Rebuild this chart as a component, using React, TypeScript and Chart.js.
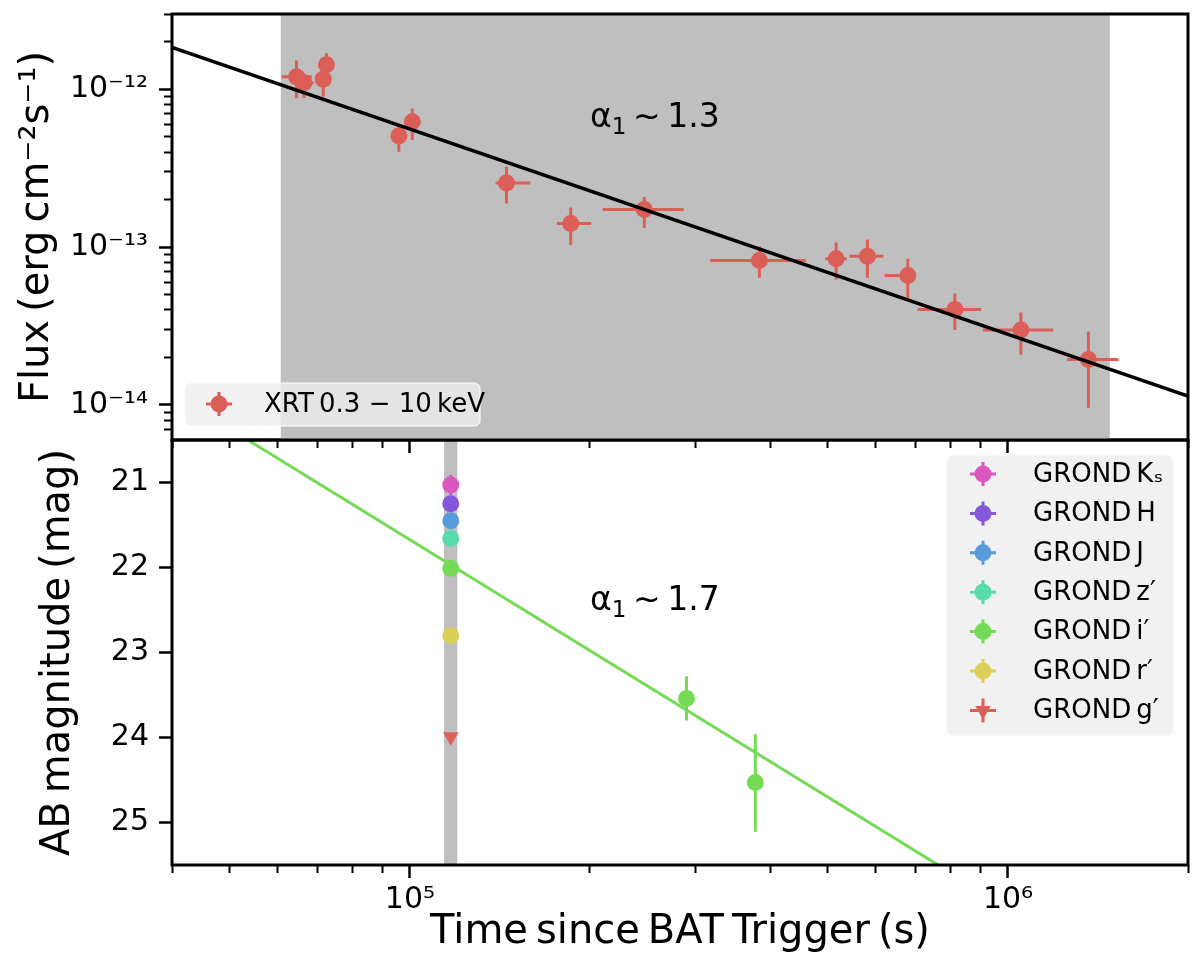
import { useEffect, useRef } from "react";
import { Chart, registerables, type ChartConfiguration, type Plugin, type Scale } from "chart.js";

Chart.register(...registerables);

const FONT = "'DejaVu Sans', 'Noto Sans', sans-serif";
const RED = "#db5f57";
const BAND_GREY = "#bfbfbf";

// time axis (s)
const timeMin = 4e4;
const timeMax = 2e6;
const timeMajor = [1e5, 1e6];
const timeMinor = [4e4, 5e4, 6e4, 7e4, 8e4, 9e4, 2e5, 3e5, 4e5, 5e5, 6e5, 7e5, 8e5, 9e5, 2e6];

// flux axis (erg cm^-2 s^-1)
const fluxMin = 6e-15;
const fluxMax = 3e-12;
const fluxMajor = [1e-14, 1e-13, 1e-12];
const fluxMinor = [
  7e-15, 8e-15, 9e-15, 2e-14, 3e-14, 4e-14, 5e-14, 6e-14, 7e-14, 8e-14, 9e-14,
  2e-13, 3e-13, 4e-13, 5e-13, 6e-13, 7e-13, 8e-13, 9e-13, 2e-12, 3e-12,
];

// magnitude axis
const magMin = 20.5;
const magMax = 25.5;
const magTicks = [21, 22, 23, 24, 25];

// XRT 0.3-10 keV
const xrtTime = [6.46e4, 6.65e4, 7.16e4, 7.25e4, 9.58e4, 1.009e5, 1.45e5, 1.857e5, 2.465e5, 3.84e5, 5.16e5, 5.82e5, 6.8e5, 8.15e5, 1.051e6, 1.363e6];
const xrtTimeLo = [6.1e4, 6.4e4, 7.0e4, 7.1e4, 9.3e4, 9.8e4, 1.39e5, 1.76e5, 2.1e5, 3.18e5, 4.95e5, 5.43e5, 6.22e5, 7.06e5, 9.08e5, 1.255e6];
const xrtTimeHi = [6.85e4, 6.9e4, 7.3e4, 7.4e4, 9.9e4, 1.04e5, 1.59e5, 2.01e5, 2.87e5, 4.59e5, 5.37e5, 6.19e5, 7.0e5, 9.02e5, 1.19e6, 1.53e6];
const xrtFlux = [1.2e-12, 1.1e-12, 1.16e-12, 1.43e-12, 5.07e-13, 6.22e-13, 2.55e-13, 1.41e-13, 1.73e-13, 8.24e-14, 8.45e-14, 8.75e-14, 6.62e-14, 4.03e-14, 2.99e-14, 1.94e-14];
const xrtFluxLo = [8.77e-13, 8.77e-13, 8.98e-13, 1.2e-12, 4.02e-13, 4.77e-13, 1.89e-13, 1.03e-13, 1.32e-13, 6.4e-14, 6.22e-14, 6.4e-14, 4.71e-14, 2.99e-14, 2.08e-14, 9.6e-15];
const xrtFluxHi = [1.52e-12, 1.26e-12, 1.35e-12, 1.69e-12, 5.93e-13, 7.57e-13, 3.23e-13, 1.78e-13, 2.08e-13, 1.01e-13, 1.07e-13, 1.12e-13, 8.45e-14, 5.09e-14, 3.85e-14, 2.92e-14];

// X-ray power-law fit
const xrtFitTime = [4e4, 2e6];
const xrtFitFlux = [1.84e-12, 1.137e-14];
const xrtBand = [6.08e4, 1.48e6];
const xrtIndex = "1.3";

// GROND
const grondLabels = ["GROND\u2009Kₛ", "GROND\u2009H", "GROND\u2009J", "GROND\u2009z′", "GROND\u2009i′", "GROND\u2009r′", "GROND\u2009g′"];
const grondColors = ["#db57c0", "#8557db", "#579bdb", "#57dbaa", "#75db57", "#dbd057", "#db5f57"];
const grondTime = 1.17e5;
const grondMag = [21.03, 21.25, 21.45, 21.66, 22.01, 22.8, 23.99];
const grondMagErr = [0.12, 0.05, 0.05, 0.05, 0.05, 0.05, 0];
const iLateTime = [2.9e5, 3.78e5];
const iLateMag = [23.54, 24.53];
const iLateMagTop = [23.28, 23.96];
const iLateMagBottom = [23.8, 25.11];

// optical power-law fit
const optFitTime = [4e4, 2e6];
const optFitMag = [19.95, 27.31];
const grondBand = [1.14e5, 1.2e5];
const optIndex = "1.7";

const SUP: Record<string, string> = {
  "-": "⁻", "0": "⁰", "1": "¹", "2": "²", "3": "³", "4": "⁴", "5": "⁵", "6": "⁶", "7": "⁷", "8": "⁸", "9": "⁹",
};
const pow10 = (v: number) =>
  "10" + [...String(Math.round(Math.log10(v)))].map((c) => SUP[c]).join("");

const fixBox = (size: number) => (s: Scale) => {
  if (s.isHorizontal()) s.height = size;
  else s.width = size;
  const p = s as any;
  p.paddingLeft = p.paddingRight = p.paddingTop = p.paddingBottom = 0;
};

const tickFont = { family: FONT, size: 30 };
const titleFont = { family: FONT, size: 40 };
const majorGrid = { drawOnChartArea: false, tickLength: 13, tickWidth: 2.5, tickColor: "#000" };
const minorGrid = { drawOnChartArea: false, tickLength: 8, tickWidth: 2, tickColor: "#000" };

function timeScales(showLabels: boolean) {
  return {
    x: {
      type: "logarithmic",
      position: "bottom",
      weight: 1,
      min: timeMin,
      max: timeMax,
      afterBuildTicks: (s: Scale) => {
        s.ticks = timeMajor.map((value) => ({ value, major: true }));
      },
      ticks: {
        display: showLabels,
        callback: (v: number | string) => pow10(Number(v)),
        font: tickFont,
        color: "#000",
        padding: 4,
        maxRotation: 0,
        autoSkip: false,
      },
      grid: majorGrid,
      border: { display: false },
      title: {
        display: showLabels,
        text: "Time\u2009since\u2009BAT\u2009Trigger\u2009(s)",
        font: titleFont,
        color: "#000",
        padding: { top: 0, bottom: 9 },
      },
      afterFit: fixBox(showLabels ? 101 : 20),
    },
    xMinor: {
      type: "logarithmic",
      position: "bottom",
      weight: 0,
      min: timeMin,
      max: timeMax,
      afterBuildTicks: (s: Scale) => {
        s.ticks = timeMinor.map((value) => ({ value }));
      },
      ticks: { display: false, autoSkip: false },
      grid: minorGrid,
      border: { display: false },
      afterFit: fixBox(0),
    },
  };
}

type LegendBox = { x: number; y: number; w: number; h: number; row0: number; step: number; markerX: number; textX: number };
type Note = { x: number; y: number; value: string };

function drawMarker(ctx: CanvasRenderingContext2D, x: number, y: number, color: string, style: string) {
  ctx.strokeStyle = color;
  ctx.lineWidth = 3;
  ctx.beginPath();
  ctx.moveTo(x - 13, y);
  ctx.lineTo(x + 13, y);
  ctx.moveTo(x, y - 12);
  ctx.lineTo(x, y + 12);
  ctx.stroke();
  ctx.fillStyle = color;
  ctx.beginPath();
  if (style === "triangle") {
    ctx.moveTo(x, y + 9);
    ctx.lineTo(x - 7.8, y - 4.5);
    ctx.lineTo(x + 7.8, y - 4.5);
    ctx.closePath();
  } else {
    ctx.arc(x, y, 8.5, 0, Math.PI * 2);
  }
  ctx.fill();
}

function panelPlugin(band: number[], note: Note, legend: LegendBox): Plugin<"scatter"> {
  return {
    id: "panel",
    beforeDatasetsDraw(chart) {
      const { ctx, chartArea: a, scales } = chart;
      const xs = scales.x;
      ctx.save();
      ctx.beginPath();
      ctx.rect(a.left, a.top, a.width, a.height);
      ctx.clip();
      const b0 = xs.getPixelForValue(band[0]);
      const b1 = xs.getPixelForValue(band[1]);
      ctx.fillStyle = BAND_GREY;
      ctx.fillRect(b0, a.top, b1 - b0, a.height);
      ctx.lineWidth = 3;
      chart.data.datasets.forEach((ds: any, i) => {
        if (!ds.errX && !ds.errY) return;
        const ys = scales[chart.getDatasetMeta(i).yAxisID as string];
        ctx.strokeStyle = ds.backgroundColor;
        (ds.data as { x: number; y: number }[]).forEach((p, j) => {
          const px = xs.getPixelForValue(p.x);
          const py = ys.getPixelForValue(p.y);
          const ex = ds.errX?.[j];
          const ey = ds.errY?.[j];
          ctx.beginPath();
          if (ex) {
            ctx.moveTo(xs.getPixelForValue(ex[0]), py);
            ctx.lineTo(xs.getPixelForValue(ex[1]), py);
          }
          if (ey) {
            ctx.moveTo(px, ys.getPixelForValue(ey[0]));
            ctx.lineTo(px, ys.getPixelForValue(ey[1]));
          }
          ctx.stroke();
        });
      });
      ctx.restore();
    },
    afterDatasetsDraw(chart) {
      const { ctx, chartArea: a, scales } = chart;
      ctx.save();
      // annotation  α₁ ∼ n
      let cx = scales.x.getPixelForValue(note.x);
      const cy = scales.y.getPixelForValue(note.y);
      ctx.fillStyle = "#000";
      ctx.textBaseline = "alphabetic";
      const parts: [string, number, number][] = [["α", 33, 0], ["1", 23, 7], ["\u2009∼\u2009" + note.value, 33, 0]];
      for (const [t, size, dy] of parts) {
        ctx.font = `${size}px ${FONT}`;
        ctx.fillText(t, cx, cy + dy);
        cx += ctx.measureText(t).width;
      }
      // spines
      ctx.strokeStyle = "#000";
      ctx.lineWidth = 3;
      ctx.strokeRect(a.left, a.top, a.width, a.height);
      ctx.restore();
    },
    afterDraw(chart) {
      const { ctx } = chart;
      ctx.save();
      ctx.fillStyle = "rgba(238,238,238,0.8)";
      ctx.strokeStyle = "rgba(250,250,250,0.8)";
      ctx.lineWidth = 1.5;
      ctx.beginPath();
      ctx.roundRect(legend.x, legend.y, legend.w, legend.h, 6);
      ctx.fill();
      ctx.stroke();
      let row = 0;
      chart.data.datasets.forEach((ds: any) => {
        if (!ds.label) return;
        const y = legend.row0 + row * legend.step;
        drawMarker(ctx, legend.markerX, y, ds.backgroundColor, ds.pointStyle ?? "circle");
        ctx.fillStyle = "#000";
        ctx.font = `26px ${FONT}`;
        ctx.textBaseline = "middle";
        ctx.fillText(ds.label, legend.textX, y + 1);
        row++;
      });
      ctx.restore();
    },
  };
}

function topConfig(): ChartConfiguration<"scatter"> {
  return {
    type: "scatter",
    data: {
      datasets: [
        {
          label: "XRT\u20090.3 − 10\u2009keV",
          data: xrtTime.map((x, i) => ({ x, y: xrtFlux[i] })),
          errX: xrtTime.map((_, i) => [xrtTimeLo[i], xrtTimeHi[i]]),
          errY: xrtTime.map((_, i) => [xrtFluxLo[i], xrtFluxHi[i]]),
          backgroundColor: RED,
          borderColor: RED,
          pointRadius: 8.5,
          pointBorderWidth: 0,
          xAxisID: "x",
          yAxisID: "y",
          order: 1,
        } as any,
        {
          data: xrtFitTime.map((x, i) => ({ x, y: xrtFitFlux[i] })),
          showLine: true,
          borderColor: "#000",
          borderWidth: 3.5,
          pointRadius: 0,
          xAxisID: "x",
          yAxisID: "y",
          order: 0,
        },
      ],
    },
    options: {
      responsive: false,
      animation: false,
      events: [],
      layout: { padding: { top: 14, right: 12, left: 0, bottom: 0 } },
      plugins: { legend: { display: false }, tooltip: { enabled: false } },
      scales: {
        ...timeScales(false),
        y: {
          type: "logarithmic",
          position: "left",
          weight: 1,
          min: fluxMin,
          max: fluxMax,
          afterBuildTicks: (s: Scale) => {
            s.ticks = fluxMajor.map((value) => ({ value, major: true }));
          },
          ticks: { callback: (v: number | string) => pow10(Number(v)), font: tickFont, color: "#000", padding: 11, autoSkip: false },
          grid: majorGrid,
          border: { display: false },
          title: {
            display: true,
            text: "Flux\u2009(erg\u2009cm⁻²s⁻¹)",
            font: titleFont,
            color: "#000",
            padding: { top: 14, bottom: 0 },
          },
          afterFit: fixBox(172),
        },
        yMinor: {
          type: "logarithmic",
          position: "left",
          weight: 0,
          min: fluxMin,
          max: fluxMax,
          afterBuildTicks: (s: Scale) => {
            s.ticks = fluxMinor.map((value) => ({ value }));
          },
          ticks: { display: false, autoSkip: false },
          grid: minorGrid,
          border: { display: false },
          afterFit: fixBox(0),
        },
      } as any,
    },
    plugins: [
      panelPlugin(
        xrtBand,
        { x: 2.0e5, y: 5.77e-13, value: xrtIndex },
        { x: 185, y: 383, w: 295, h: 43, row0: 404, step: 0, markerX: 219, textX: 264 },
      ),
    ],
  };
}

function bottomConfig(): ChartConfiguration<"scatter"> {
  const grondSets = grondLabels.map((label, k) => {
    const pts = [{ x: grondTime, y: grondMag[k] }];
    const errY = [[grondMag[k] - grondMagErr[k], grondMag[k] + grondMagErr[k]]];
    if (label.endsWith("i′")) {
      iLateTime.forEach((x, j) => {
        pts.push({ x, y: iLateMag[j] });
        errY.push([iLateMagTop[j], iLateMagBottom[j]]);
      });
    }
    const isLimit = grondMagErr[k] === 0;
    return {
      label,
      data: pts,
      errY,
      backgroundColor: grondColors[k],
      borderColor: grondColors[k],
      pointStyle: isLimit ? "triangle" : "circle",
      pointRotation: isLimit ? 180 : 0,
      pointRadius: isLimit ? 9 : 8.5,
      pointBorderWidth: 0,
      xAxisID: "x",
      yAxisID: "y",
      order: 1,
    } as any;
  });
  return {
    type: "scatter",
    data: {
      datasets: [
        ...grondSets,
        {
          data: optFitTime.map((x, i) => ({ x, y: optFitMag[i] })),
          showLine: true,
          borderColor: "#75db57",
          borderWidth: 3,
          pointRadius: 0,
          xAxisID: "x",
          yAxisID: "y",
          order: 0,
        },
      ],
    },
    options: {
      responsive: false,
      animation: false,
      events: [],
      layout: { padding: { top: 20, right: 12, left: 0, bottom: 0 } },
      plugins: { legend: { display: false }, tooltip: { enabled: false } },
      scales: {
        ...timeScales(true),
        y: {
          type: "linear",
          position: "left",
          reverse: true,
          weight: 1,
          min: magMin,
          max: magMax,
          afterBuildTicks: (s: Scale) => {
            s.ticks = magTicks.map((value) => ({ value, major: true }));
          },
          ticks: { callback: (v: number | string) => String(v), font: tickFont, color: "#000", padding: 10, autoSkip: false },
          grid: majorGrid,
          border: { display: false },
          title: {
            display: true,
            text: "AB\u2009magnitude\u2009(mag)",
            font: titleFont,
            color: "#000",
            padding: { top: 35, bottom: 0 },
          },
          afterFit: fixBox(172),
        },
      } as any,
    },
    plugins: [
      panelPlugin(
        grondBand,
        { x: 2.0e5, y: 22.5, value: optIndex },
        { x: 947, y: 35, w: 226, h: 281, row0: 54, step: 39.4, markerX: 983, textX: 1033 },
      ),
    ],
  };
}

function useChart(build: () => ChartConfiguration<"scatter">) {
  const ref = useRef<HTMLCanvasElement | null>(null);
  useEffect(() => {
    const el = ref.current;
    if (!el) return;
    const chart = new Chart(el, build());
    return () => chart.destroy();
  }, []);
  return ref;
}

export default function App() {
  const topRef = useChart(topConfig);
  const bottomRef = useChart(bottomConfig);
  return (
    <div style={{ position: "absolute", left: 0, top: 0, width: 1200, height: 966, background: "#fff" }}>
      <canvas
        ref={bottomRef}
        width={1200}
        height={546}
        style={{ position: "absolute", left: 0, top: 420, zIndex: 1 }}
      />
      <canvas
        ref={topRef}
        width={1200}
        height={460}
        style={{ position: "absolute", left: 0, top: 0, zIndex: 2 }}
      />
    </div>
  );
}
